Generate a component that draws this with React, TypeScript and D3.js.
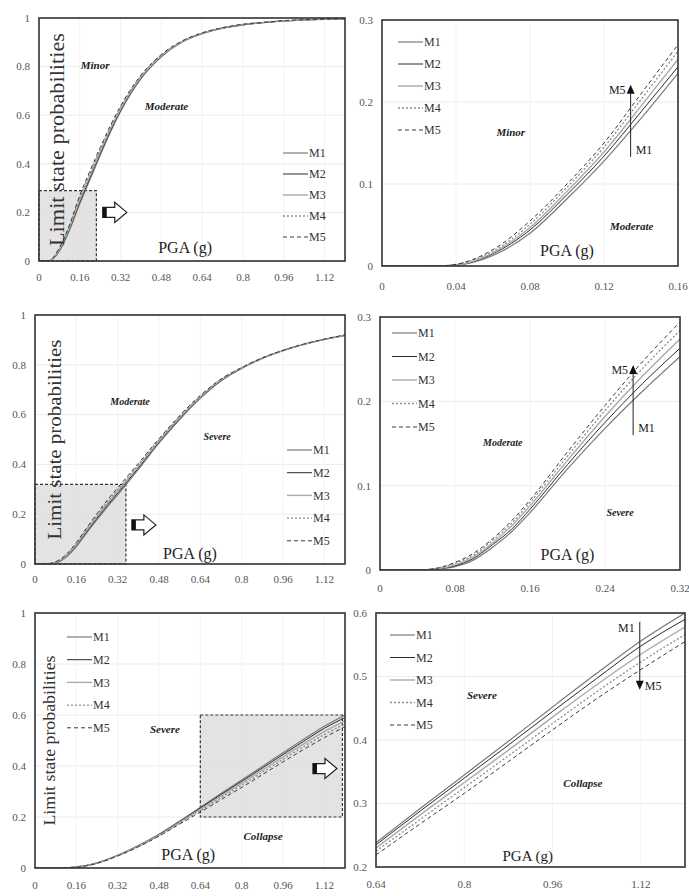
import React from "react";
import * as d3 from "d3";

const seriesNames = ["M1", "M2", "M3", "M4", "M5"];
const seriesStroke = ["#7a7a7a", "#2a2a2a", "#aaaaaa", "#8c8c8c", "#3a3a3a"];
const seriesDash = ["", "", "", "2,2", "4,3"];
const seriesWidth = [1.2, 1.0, 1.4, 1.3, 1.0];

// PGA grid (g) for the full-range curves
const pgaWide = [0, 0.04, 0.08, 0.12, 0.16, 0.2, 0.24, 0.28, 0.32, 0.4, 0.48, 0.56, 0.64, 0.72, 0.8, 0.88, 0.96, 1.04, 1.12, 1.2];

// Minor / Moderate limit state
const minorWide = [
  [0, 0.001, 0.04, 0.128, 0.235, 0.335, 0.435, 0.53, 0.615, 0.75, 0.84, 0.9, 0.935, 0.958, 0.972, 0.981, 0.988, 0.992, 0.995, 0.997],
  [0, 0.001, 0.044, 0.134, 0.243, 0.343, 0.442, 0.536, 0.62, 0.753, 0.842, 0.901, 0.936, 0.958, 0.972, 0.981, 0.988, 0.992, 0.995, 0.997],
  [0, 0.001, 0.047, 0.139, 0.252, 0.352, 0.45, 0.543, 0.626, 0.757, 0.845, 0.902, 0.937, 0.959, 0.973, 0.982, 0.988, 0.992, 0.995, 0.997],
  [0, 0.002, 0.051, 0.145, 0.262, 0.362, 0.459, 0.55, 0.632, 0.761, 0.847, 0.903, 0.938, 0.959, 0.973, 0.982, 0.988, 0.992, 0.995, 0.997],
  [0, 0.002, 0.055, 0.15, 0.27, 0.371, 0.467, 0.557, 0.638, 0.765, 0.85, 0.905, 0.939, 0.96, 0.974, 0.982, 0.989, 0.993, 0.995, 0.997],
];
const pgaMinorZoom = [0, 0.02, 0.03, 0.04, 0.06, 0.08, 0.1, 0.12, 0.14, 0.16];
const minorZoom = [
  [0, 0, 0, 0.001, 0.013, 0.04, 0.082, 0.128, 0.18, 0.235],
  [0, 0, 0, 0.001, 0.015, 0.044, 0.087, 0.134, 0.188, 0.243],
  [0, 0, 0, 0.001, 0.016, 0.047, 0.091, 0.139, 0.195, 0.252],
  [0, 0, 0, 0.002, 0.018, 0.051, 0.096, 0.145, 0.203, 0.262],
  [0, 0, 0, 0.002, 0.02, 0.055, 0.1, 0.15, 0.21, 0.27],
];

// Moderate / Severe limit state
const moderateWide = [
  [0, 0, 0.004, 0.027, 0.07, 0.125, 0.178, 0.229, 0.278, 0.38, 0.485, 0.58, 0.665, 0.735, 0.785, 0.826, 0.857, 0.882, 0.902, 0.918],
  [0, 0, 0.005, 0.03, 0.074, 0.13, 0.184, 0.236, 0.285, 0.386, 0.49, 0.584, 0.668, 0.737, 0.786, 0.826, 0.857, 0.882, 0.902, 0.918],
  [0, 0, 0.006, 0.032, 0.078, 0.135, 0.19, 0.243, 0.292, 0.392, 0.494, 0.588, 0.671, 0.739, 0.787, 0.827, 0.857, 0.882, 0.902, 0.919],
  [0, 0, 0.008, 0.035, 0.082, 0.14, 0.196, 0.25, 0.299, 0.398, 0.499, 0.592, 0.674, 0.741, 0.788, 0.827, 0.858, 0.883, 0.902, 0.919],
  [0, 0, 0.009, 0.037, 0.086, 0.145, 0.202, 0.257, 0.306, 0.404, 0.503, 0.596, 0.677, 0.743, 0.789, 0.828, 0.858, 0.883, 0.903, 0.92],
];
const pgaModerateZoom = [0, 0.04, 0.06, 0.08, 0.1, 0.12, 0.14, 0.16, 0.2, 0.24, 0.28, 0.32];
const moderateZoom = [
  [0, 0, 0.001, 0.004, 0.012, 0.027, 0.045, 0.068, 0.12, 0.168, 0.212, 0.253],
  [0, 0, 0.001, 0.005, 0.014, 0.03, 0.048, 0.072, 0.125, 0.175, 0.221, 0.263],
  [0, 0, 0.001, 0.006, 0.016, 0.032, 0.052, 0.076, 0.13, 0.182, 0.23, 0.274],
  [0, 0, 0.002, 0.008, 0.018, 0.035, 0.055, 0.08, 0.135, 0.189, 0.239, 0.284],
  [0, 0, 0.002, 0.009, 0.02, 0.037, 0.058, 0.083, 0.14, 0.195, 0.247, 0.294],
];

// Severe / Collapse limit state
const pgaSevereWide = [0, 0.08, 0.12, 0.16, 0.2, 0.24, 0.32, 0.4, 0.48, 0.56, 0.64, 0.72, 0.8, 0.88, 0.96, 1.04, 1.12, 1.2];
const severeWide = [
  [0, 0, 0.001, 0.004, 0.01, 0.02, 0.05, 0.088, 0.132, 0.184, 0.238, 0.292, 0.345, 0.398, 0.452, 0.505, 0.556, 0.6],
  [0, 0, 0.001, 0.004, 0.01, 0.02, 0.05, 0.087, 0.131, 0.182, 0.235, 0.288, 0.34, 0.392, 0.445, 0.497, 0.548, 0.59],
  [0, 0, 0.001, 0.004, 0.01, 0.019, 0.049, 0.086, 0.129, 0.179, 0.23, 0.282, 0.333, 0.384, 0.436, 0.487, 0.535, 0.578],
  [0, 0, 0.001, 0.004, 0.009, 0.019, 0.048, 0.084, 0.127, 0.176, 0.225, 0.275, 0.325, 0.375, 0.426, 0.476, 0.523, 0.566],
  [0, 0, 0.001, 0.003, 0.009, 0.018, 0.047, 0.083, 0.125, 0.172, 0.219, 0.268, 0.316, 0.366, 0.416, 0.465, 0.511, 0.555],
];
const pgaSevereZoom = [0.64, 0.72, 0.8, 0.88, 0.96, 1.04, 1.12, 1.2];
const severeZoom = [
  [0.238, 0.292, 0.345, 0.398, 0.452, 0.505, 0.556, 0.6],
  [0.235, 0.288, 0.34, 0.392, 0.445, 0.497, 0.548, 0.59],
  [0.23, 0.282, 0.333, 0.384, 0.436, 0.487, 0.535, 0.578],
  [0.225, 0.275, 0.325, 0.375, 0.426, 0.476, 0.523, 0.566],
  [0.219, 0.268, 0.316, 0.366, 0.416, 0.465, 0.511, 0.555],
];

// axis ticks
const wideXTicks = [0, 0.16, 0.32, 0.48, 0.64, 0.8, 0.96, 1.12];
const probTicks = [0, 0.2, 0.4, 0.6, 0.8, 1];
const minorZoomXTicks = [0, 0.04, 0.08, 0.12, 0.16];
const moderateZoomXTicks = [0, 0.08, 0.16, 0.24, 0.32];
const severeZoomXTicks = [0.64, 0.8, 0.96, 1.12];
const lowProbTicks = [0, 0.1, 0.2, 0.3];
const severeProbTicks = [0.2, 0.3, 0.4, 0.5, 0.6];

const FONT = "'Liberation Serif', 'Times New Roman', serif";

type Panel = {
  left: number; top: number; right: number; bottom: number;
  xDomain: [number, number]; yDomain: [number, number];
  xTicks: number[]; yTicks: number[];
  xs: number[]; ys: number[][];
  yTitle?: { x: number; size: number; len: number };
  legend: { dx: number; dy: number; step: number };
  box?: [number, number, number, number];
  blockArrow?: [number, number];
  states: { text: string; x: number; y: number; size: number }[];
  pga: [number, number, number];
  xLabelGap: number;
  trend?: { x: number; y0: number; y1: number; side0: number; side1: number };
};

const panels: Panel[] = [
  {
    left: 39, top: 18, right: 345, bottom: 261,
    xDomain: [0, 1.2], yDomain: [0, 1], xTicks: wideXTicks, yTicks: probTicks,
    xs: pgaWide, ys: minorWide,
    yTitle: { x: 64, size: 20, len: 213 },
    legend: { dx: 244, dy: 135, step: 21 },
    box: [0, 0.225, 0, 0.29],
    blockArrow: [0.25, 0.2],
    states: [
      { text: "Minor", x: 0.22, y: 0.79, size: 11 },
      { text: "Moderate", x: 0.5, y: 0.62, size: 11 },
    ],
    pga: [0.573, 0.033, 16],
    xLabelGap: 20,
  },
  {
    left: 382, top: 20, right: 678, bottom: 266,
    xDomain: [0, 0.16], yDomain: [0, 0.3], xTicks: minorZoomXTicks, yTicks: lowProbTicks,
    xs: pgaMinorZoom, ys: minorZoom,
    legend: { dx: 16, dy: 22, step: 22 },
    states: [
      { text: "Minor", x: 0.0696, y: 0.158, size: 11 },
      { text: "Moderate", x: 0.135, y: 0.044, size: 11 },
    ],
    pga: [0.1, 0.012, 16],
    xLabelGap: 24,
    trend: { x: 0.1344, y0: 0.133, y1: 0.221, side0: 1, side1: -1 },
  },
  {
    left: 35, top: 315, right: 345, bottom: 564,
    xDomain: [0, 1.2], yDomain: [0, 1], xTicks: wideXTicks, yTicks: probTicks,
    xs: pgaWide, ys: moderateWide,
    yTitle: { x: 61, size: 19, len: 200 },
    legend: { dx: 252, dy: 135, step: 22.7 },
    box: [0, 0.352, 0, 0.32],
    blockArrow: [0.375, 0.157],
    states: [
      { text: "Moderate", x: 0.368, y: 0.64, size: 10 },
      { text: "Severe", x: 0.705, y: 0.5, size: 10 },
    ],
    pga: [0.6, 0.02, 16],
    xLabelGap: 19,
  },
  {
    left: 380, top: 317, right: 680, bottom: 570,
    xDomain: [0, 0.32], yDomain: [0, 0.3], xTicks: moderateZoomXTicks, yTicks: lowProbTicks,
    xs: pgaModerateZoom, ys: moderateZoom,
    legend: { dx: 12, dy: 16, step: 23.5 },
    states: [
      { text: "Moderate", x: 0.131, y: 0.147, size: 10 },
      { text: "Severe", x: 0.256, y: 0.064, size: 10 },
    ],
    pga: [0.2, 0.012, 16],
    xLabelGap: 22,
    trend: { x: 0.27, y0: 0.16, y1: 0.243, side0: 1, side1: -1 },
  },
  {
    left: 35, top: 613, right: 345, bottom: 868,
    xDomain: [0, 1.2], yDomain: [0, 1], xTicks: wideXTicks, yTicks: probTicks,
    xs: pgaSevereWide, ys: severeWide,
    yTitle: { x: 55, size: 16, len: 170 },
    legend: { dx: 32, dy: 24, step: 22.7 },
    box: [0.64, 1.19, 0.2, 0.6],
    blockArrow: [1.076, 0.39],
    states: [
      { text: "Severe", x: 0.503, y: 0.53, size: 11 },
      { text: "Collapse", x: 0.883, y: 0.108, size: 11 },
    ],
    pga: [0.593, 0.03, 16],
    xLabelGap: 21,
  },
  {
    left: 376, top: 613, right: 685, bottom: 867,
    xDomain: [0.64, 1.2], yDomain: [0.2, 0.6], xTicks: severeZoomXTicks, yTicks: severeProbTicks,
    xs: pgaSevereZoom, ys: severeZoom,
    legend: { dx: 14, dy: 22, step: 22.5 },
    states: [
      { text: "Severe", x: 0.832, y: 0.465, size: 11 },
      { text: "Collapse", x: 1.015, y: 0.326, size: 11 },
    ],
    pga: [0.915, 0.21, 15],
    xLabelGap: 21,
    trend: { x: 1.118, y0: 0.586, y1: 0.479, side0: -1, side1: 1 },
  },
];

const fmt = (v: number) => String(+v.toFixed(2));

function ChartPanel({ p, idx }: { p: Panel; idx: number }) {
  const x = d3.scaleLinear().domain(p.xDomain).range([p.left, p.right]);
  const y = d3.scaleLinear().domain(p.yDomain).range([p.bottom, p.top]);
  const line = d3
    .line<[number, number]>()
    .x((d) => x(d[0]))
    .y((d) => y(d[1]))
    .curve(d3.curveMonotoneX);
  const clipId = `clip-${idx}`;

  let boxEl = null;
  if (p.box) {
    const [bx0, bx1, by0, by1] = p.box;
    boxEl = (
      <rect
        x={x(bx0)} y={y(by1)} width={x(bx1) - x(bx0)} height={y(by0) - y(by1)}
        fill="#d9d9d9" fillOpacity={0.75} stroke="#333" strokeWidth={1.2} strokeDasharray="3,2"
      />
    );
  }

  let arrowEl = null;
  if (p.blockArrow) {
    const ax = x(p.blockArrow[0]);
    const ay = y(p.blockArrow[1]);
    const d = `M${ax},${ay - 5} L${ax + 12},${ay - 5} L${ax + 12},${ay - 10} L${ax + 24},${ay} L${ax + 12},${ay + 10} L${ax + 12},${ay + 5} L${ax},${ay + 5} Z`;
    arrowEl = (
      <g>
        <path d={d} fill="#fff" stroke="#222" strokeWidth={1.2} />
        <rect x={ax} y={ay - 5} width={4} height={10} fill="#111" />
      </g>
    );
  }

  let trendEl = null;
  if (p.trend) {
    const t = p.trend;
    const tx = x(t.x);
    const ty0 = y(t.y0);
    const ty1 = y(t.y1);
    const dir = ty1 < ty0 ? -1 : 1;
    const head = `M${tx},${ty1} L${tx - 4},${ty1 - dir * 9} L${tx + 4},${ty1 - dir * 9} Z`;
    trendEl = (
      <g fontFamily={FONT} fontSize={12} fill="#222">
        <line x1={tx} y1={ty0} x2={tx} y2={ty1 - dir * 6} stroke="#222" strokeWidth={1} />
        <path d={head} fill="#111" />
        <text
          x={tx + t.side0 * 5} y={ty0 + (dir < 0 ? -3 : 10)}
          textAnchor={t.side0 > 0 ? "start" : "end"}
        >M1</text>
        <text
          x={tx + t.side1 * 5} y={ty1 + (dir < 0 ? 9 : 0)}
          textAnchor={t.side1 > 0 ? "start" : "end"}
        >M5</text>
      </g>
    );
  }

  return (
    <g>
      <defs>
        <clipPath id={clipId}>
          <rect x={p.left} y={p.top} width={p.right - p.left} height={p.bottom - p.top} />
        </clipPath>
      </defs>
      {/* grid */}
      {p.yTicks.map((t) => (
        <line key={`gy${t}`} x1={p.left} x2={p.right} y1={y(t)} y2={y(t)} stroke="#ececec" strokeWidth={1} />
      ))}
      {p.xTicks.map((t) => (
        <line key={`gx${t}`} x1={x(t)} x2={x(t)} y1={p.top} y2={p.bottom} stroke="#f3f3f3" strokeWidth={1} />
      ))}
      {boxEl}
      <g clipPath={`url(#${clipId})`}>
        {p.ys.map((vals, i) => (
          <path
            key={seriesNames[i]}
            d={line(p.xs.map((xv, j) => [xv, vals[j]] as [number, number])) || ""}
            fill="none"
            stroke={seriesStroke[i]}
            strokeWidth={seriesWidth[i]}
            strokeDasharray={seriesDash[i]}
          />
        ))}
      </g>
      <rect x={p.left} y={p.top} width={p.right - p.left} height={p.bottom - p.top} fill="none" stroke="#333" strokeWidth={1.6} />
      {/* tick labels */}
      <g fontFamily={FONT} fontSize={11} fill="#555">
        {p.yTicks.map((t) => (
          <text key={`ly${t}`} x={p.left - 9} y={y(t)} dy="0.35em" textAnchor="end">{fmt(t)}</text>
        ))}
        {p.xTicks.map((t) => (
          <text key={`lx${t}`} x={x(t)} y={p.bottom + p.xLabelGap} textAnchor="middle">{fmt(t)}</text>
        ))}
      </g>
      {arrowEl}
      {/* legend */}
      <g fontFamily={FONT} fontSize={12} fill="#333">
        {seriesNames.map((n, i) => {
          const ly = p.top + p.legend.dy + i * p.legend.step;
          const lx = p.left + p.legend.dx;
          return (
            <g key={`lg${n}`}>
              <line x1={lx} x2={lx + 25} y1={ly} y2={ly} stroke={seriesStroke[i]} strokeWidth={seriesWidth[i]} strokeDasharray={seriesDash[i]} />
              <text x={lx + 26} y={ly} dy="0.35em">{n}</text>
            </g>
          );
        })}
      </g>
      {/* limit state labels */}
      {p.states.map((s) => (
        <text key={s.text} x={x(s.x)} y={y(s.y)} textAnchor="middle" fontFamily={FONT} fontSize={s.size} fontWeight="bold" fontStyle="italic" fill="#222">
          {s.text}
        </text>
      ))}
      <text x={x(p.pga[0])} y={y(p.pga[1])} textAnchor="middle" fontFamily={FONT} fontSize={p.pga[2]} fill="#222">PGA (g)</text>
      {p.yTitle && (
        <text
          transform={`translate(${p.yTitle.x},${(p.top + p.bottom) / 2}) rotate(-90)`}
          textAnchor="middle" fontFamily={FONT} fontSize={p.yTitle.size} fill="#333"
          textLength={p.yTitle.len} lengthAdjust="spacingAndGlyphs"
        >Limit state probabilities</text>
      )}
      {trendEl}
    </g>
  );
}

export default function App() {
  return (
    <svg width={689} height={896} style={{ position: "absolute", left: 0, top: 0, background: "#fff" }}>
      <rect width={689} height={896} fill="#fff" />
      {panels.map((p, i) => (
        <ChartPanel key={i} p={p} idx={i} />
      ))}
    </svg>
  );
}
